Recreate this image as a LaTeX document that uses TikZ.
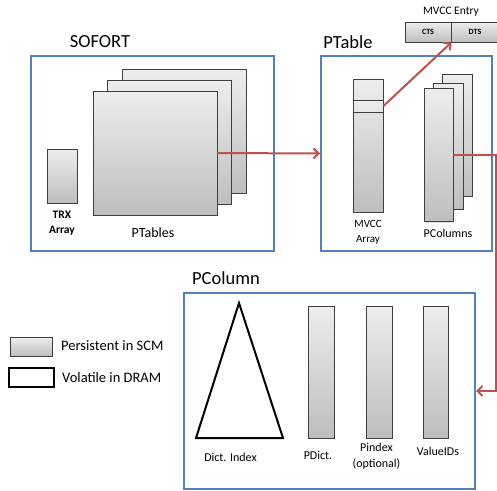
\documentclass[tikz,border=0pt]{standalone}
\usepackage{fontspec}
\setmainfont{Carlito}
\usetikzlibrary{arrows.meta,shadows}
\definecolor{frameblue}{HTML}{4F81BD}
\definecolor{arrred}{HTML}{C0504D}
\definecolor{boxedge}{HTML}{3F3F3F}
\definecolor{gtop}{HTML}{EDEDED}
\definecolor{gbot}{HTML}{BEBEBE}
\tikzset{
  frame/.style={draw=frameblue, line width=2pt, rectangle, inner sep=0pt},
  pers/.style={rectangle, inner sep=0pt, draw=boxedge, line width=0.8pt,
    top color=gtop, bottom color=gbot,
    drop shadow={shadow xshift=1.2pt, shadow yshift=-1.2pt, opacity=0.25}},
  redarrow/.style={draw=arrred, line width=2pt, -{Straight Barb[length=5pt,width=10pt,line width=2pt]}},
  title/.style={font=\fontsize{18.5}{22}\selectfont, inner sep=0pt},
  lbl/.style={font=\fontsize{12}{16}\selectfont, inner sep=0pt, align=center},
  lblsm/.style={font=\fontsize{11}{15}\selectfont, inner sep=0pt, align=center},
  legtxt/.style={font=\fontsize{14.5}{17}\selectfont, inner sep=0pt, anchor=west}
}
\begin{document}
\begin{tikzpicture}[x=1pt,y=-1pt]
\clip (0,0) rectangle (497,490);
\fill[white] (0,0) rectangle (497,490);

% SOFORT
\node[frame, minimum width=243pt, minimum height=195pt] (sofort) at (152.5,153.5) {};
\node[title] (sofortlbl) at (100,42) {SOFORT};
\node[pers, minimum width=124pt, minimum height=124pt] (ptb) at (184,131) {};
\node[pers, minimum width=124pt, minimum height=124pt] (ptm) at (169,142) {};
\node[pers, minimum width=124pt, minimum height=124pt] (ptf) at (155,153) {};
\node[lbl, font=\fontsize{14}{17}\selectfont] (ptableslbl) at (153,233) {PTables};
\node[pers, minimum width=30pt, minimum height=54pt] (trx) at (62,176) {};
\node[lbl, font=\fontsize{11.5}{15}\selectfont\bfseries] (trxlbl) at (62,223.5) {TRX\\Array};

% PTable
\node[frame, minimum width=171pt, minimum height=195pt] (ptable) at (406.5,153.5) {};
\node[title] (ptablelbl) at (348,42) {PTable};
\node[pers, minimum width=30pt, minimum height=133pt] (mvcc) at (368,145.5) {};
\node[rectangle, inner sep=0pt, draw=boxedge, line width=0.8pt, top color=gtop, bottom color=gtop!85!gbot,
      minimum width=30pt, minimum height=12pt] (band) at (368,106) {};
\node[lblsm] (mvcclbl) at (368,232) {MVCC\\Array};
\node[pers, minimum width=30pt, minimum height=122pt] (pcb) at (457,135) {};
\node[pers, minimum width=30pt, minimum height=126pt] (pcm) at (448,146) {};
\node[pers, minimum width=29pt, minimum height=133pt] (pcf) at (438.5,155) {};
\node[lbl] (pcolslbl) at (448,233) {PColumns};

% MVCC Entry
\node[lblsm, font=\fontsize{11.5}{14}\selectfont] (entrylbl) at (451,12) {MVCC Entry};
\node[pers, minimum width=46pt, minimum height=20pt, font=\fontsize{8}{10}\selectfont\bfseries] (cts) at (428,32) {CTS};
\node[pers, minimum width=48pt, minimum height=20pt, font=\fontsize{8}{10}\selectfont\bfseries] (dts) at (475,32) {DTS};

% PColumn
\node[frame, minimum width=291pt, minimum height=196pt] (pcolumn) at (329.5,391) {};
\node[title] (pcolumnlbl) at (226,278) {PColumn};
\coordinate (triA) at (239,303);
\coordinate (triB) at (196,438);
\coordinate (triC) at (283,438);
\draw[black, line width=2pt, line join=miter] (triA) -- (triB) -- (triC) -- cycle;
\node[lbl] (dictlbl) at (230.5,457) {Dict. Index};
\node[pers, minimum width=26pt, minimum height=132pt] (pdict) at (321,372) {};
\node[lbl] (pdictlbl) at (318,455) {PDict.};
\node[pers, minimum width=26pt, minimum height=132pt] (pindex) at (379,372) {};
\node[lbl] (pindexlbl) at (376.5,456.5) {Pindex\\(optional)};
\node[pers, minimum width=25pt, minimum height=132pt] (vids) at (435.5,372) {};
\node[lbl] (vidslbl) at (438,451) {ValueIDs};

% Legend
\node[pers, minimum width=42pt, minimum height=19pt] (legp) at (31,346.5) {};
\node[legtxt] (legptxt) at (61,346) {Persistent in SCM};
\node[rectangle, draw=black, line width=2.5pt, fill=white, inner sep=0pt, minimum width=45pt, minimum height=19pt] (legv) at (31.5,377.5) {};
\node[legtxt] (legvtxt) at (62,378) {Volatile in DRAM};

% Arrows
\draw[redarrow] (ptf.east) -- (ptable.west);
\draw[redarrow] (band.east) -- (cts.south east);
\coordinate (turn) at (496,155);
\draw[redarrow] (pcf.east) -- (turn) |- (pcolumn.east);
\end{tikzpicture}
\end{document}
